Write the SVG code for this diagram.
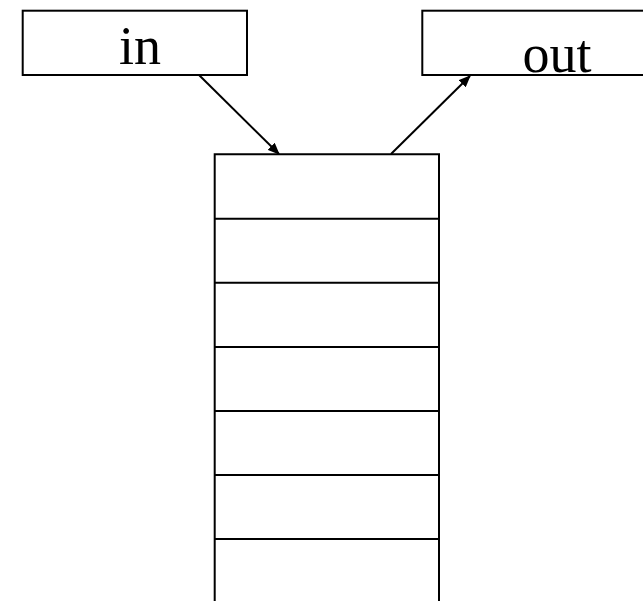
<svg xmlns="http://www.w3.org/2000/svg" width="643" height="601" viewBox="0 0 643 601">
<style>
.box{fill:#fff;stroke:#000;stroke-width:2}
.lbl{font-family:"Liberation Serif","Times New Roman",serif;font-size:54px;fill:#000;text-anchor:middle}
.conn{stroke:#000;stroke-width:2;fill:none;marker-end:url(#ah)}
.cell{stroke:#000;stroke-width:2;fill:none}
</style>
<defs>
<marker id="ah" markerUnits="userSpaceOnUse" markerWidth="12" markerHeight="10" refX="11" refY="5" orient="auto">
<path d="M0,0 L12,5 L0,10 z" fill="#000"/>
</marker>
</defs>
<rect width="643" height="601" fill="#fff"/>
<g id="node-in">
<rect class="box" x="22.7" y="10.7" width="224.3" height="64.3"/>
<text class="lbl" x="140" y="64">in</text>
</g>
<g id="node-out">
<rect class="box" x="422.3" y="10.7" width="240" height="64.3"/>
<text class="lbl" x="557" y="71.5">out</text>
</g>
<g id="node-stack">
<path class="cell" d="M214.7,601 V154.3 H439 V601"/>
<path class="cell" d="M214.7,218.7 H439 M214.7,282.7 H439 M214.7,347 H439 M214.7,411 H439 M214.7,475 H439 M214.7,539 H439"/>
</g>
<g id="connectors">
<line class="conn" x1="199" y1="75" x2="279" y2="154"/>
<line class="conn" x1="391" y1="154" x2="470" y2="76"/>
</g>
</svg>
